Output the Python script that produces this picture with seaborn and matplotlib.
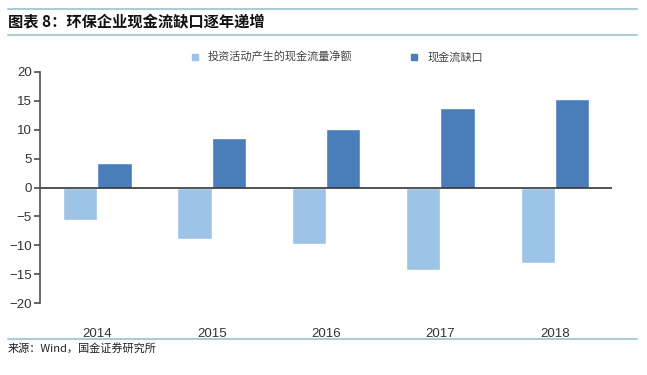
import pandas as pd
import seaborn as sns
import matplotlib.pyplot as plt
from matplotlib.lines import Line2D

years = ['2014', '2015', '2016', '2017', '2018']
invest_cf = [-5.7, -9.0, -9.7, -14.2, -13.0]
cash_gap = [4.2, 8.5, 10.2, 13.7, 15.4]
series = ['投资活动产生的现金流量净额', '现金流缺口']
colors = ['#9dc3e6', '#4a7ebb']

df = pd.DataFrame({
    'year': years * 2,
    'value': invest_cf + cash_gap,
    'series': [series[0]] * 5 + [series[1]] * 5,
})

sns.set_theme(style="white")
plt.rcParams['font.family'] = ['Noto Sans CJK SC', 'DejaVu Sans']

fig = plt.figure(figsize=(6.47, 3.75), dpi=100)
ax = fig.add_axes([0.062, 0.192, 0.884, 0.616])
sns.barplot(data=df, x='year', y='value', hue='series', palette=colors,
            width=0.6, ax=ax, legend=False, saturation=1)

ax.set_ylim(-20, 20)
ax.set_yticks(range(-20, 21, 5))
ax.set_xlim(-0.5, 4.5)
ax.set_xlabel('')
ax.set_ylabel('')
ax.axhline(0, color='#333333', lw=1.2)
for s in ['top', 'right', 'bottom']:
    ax.spines[s].set_visible(False)
ax.spines['left'].set_color('#555555')
ax.tick_params(axis='y', left=True, length=4, color='#555555', labelsize=9.5, labelcolor='#333333', pad=2)
ax.tick_params(axis='x', bottom=False, labelsize=9.5, labelcolor='#333333', pad=12)
for lab in ax.get_xticklabels() + ax.get_yticklabels():
    lab.set_family(['Liberation Sans', 'DejaVu Sans'])

handles = [Line2D([], [], marker='s', ls='', color=c, markersize=4.5) for c in colors]
fig.legend(handles, series, loc='center', bbox_to_anchor=(0.515, 0.847), ncol=2,
           frameon=False, fontsize=8, handletextpad=0.2, columnspacing=4.5,
           labelcolor='#444444')

# title and rules
fig.add_artist(Line2D([0.012, 0.985], [0.976, 0.976], color='#a8cdd8', lw=1.5))
fig.add_artist(Line2D([0.012, 0.985], [0.907, 0.907], color='#a8cdd8', lw=1.5))
fig.text(0.012, 0.941, '图表 8：环保企业现金流缺口逐年递增', fontsize=11,
         fontweight='bold', style='italic', va='center', color='#111111')
fig.add_artist(Line2D([0.012, 0.985], [0.096, 0.096], color='#a8cdd8', lw=1.5))
fig.text(0.012, 0.072, '来源：Wind，国金证券研究所', fontsize=8, va='center', color='#222222')

fig.savefig('out.png', dpi=100)
